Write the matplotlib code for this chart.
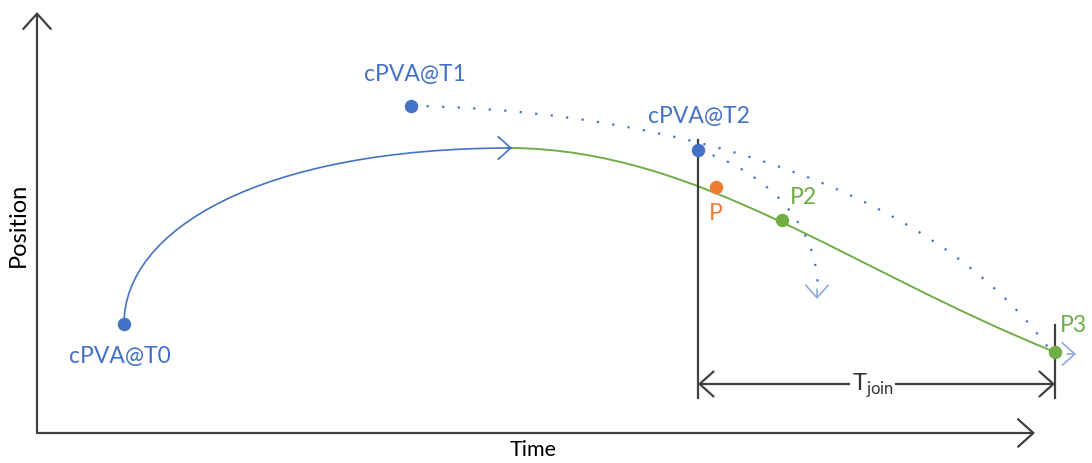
import matplotlib.pyplot as plt
from matplotlib.path import Path
from matplotlib.patches import PathPatch, FancyArrowPatch

plt.rcParams['font.family'] = ['Lato', 'DejaVu Sans']

BLUE = '#4472C4'
ORANGE = '#ED7D31'
GREEN = '#70AD47'
GREY = '#404040'

# key states (time, position) in diagram units
pva_names = ['cPVA@T0', 'cPVA@T1', 'cPVA@T2']
pva_time = [87, 374, 661]
pva_pos = [109, 327, 283]
pva_label_xy = [(83, 77), (378, 358), (662, 317)]

p_time, p_pos = 679, 246
p2_time, p2_pos = 745, 213
p3_time, p3_pos = 1018, 81

# bezier control points for the trajectories
blue_ctrl = [(87, 109), (87, 203), (223, 285), (475, 285)]
green_ctrl = [(475, 285), (663, 283), (813, 163), (1018, 81)]
t1_ctrl = [(374, 327), (563, 325), (873, 275), (1013, 83)]
t2_ctrl = [(661, 283), (728, 262), (782, 210), (781, 140)]

t_join_start, t_join_end = 661, 1018
t_join_level = 49

fig = plt.figure(figsize=(10.92, 4.63), dpi=100)
ax = fig.add_axes([0, 0, 1, 1])
ax.set_xlim(-37, 1055)
ax.set_ylim(-30, 433)
ax.axis('off')

def bezier(ctrl):
    return Path(ctrl, [Path.MOVETO, Path.CURVE4, Path.CURVE4, Path.CURVE4])

def head(tip, frm, color, lw=1.2, scale=18):
    ax.add_patch(FancyArrowPatch(frm, tip, arrowstyle='->,head_length=0.5,head_width=0.45',
                                 mutation_scale=scale, color=color, lw=lw,
                                 shrinkA=0, shrinkB=0))

# axes
head((0, 421), (0, 0), GREY, lw=1.6, scale=22)
head((998, 0), (0, 0), GREY, lw=1.6, scale=22)
ax.text(-19, 208, 'Position', rotation=90, ha='center', va='center', fontsize=17)
ax.text(496, -17, 'Time', ha='center', va='center', fontsize=15.5)

# trajectories
ax.add_patch(PathPatch(bezier(blue_ctrl), fill=False, ec=BLUE, lw=1.2))
head(blue_ctrl[-1], (blue_ctrl[-1][0] - 5, blue_ctrl[-1][1]), BLUE)
ax.add_patch(PathPatch(bezier(green_ctrl), fill=False, ec=GREEN, lw=1.4))
ax.add_patch(PathPatch(bezier(t1_ctrl), fill=False, ec=BLUE, lw=1.6, ls=(0, (1, 6))))
head((1039, 79), (1030, 79), '#8FAADC')
ax.add_patch(PathPatch(bezier(t2_ctrl), fill=False, ec=BLUE, lw=1.6, ls=(0, (1, 6))))
head((780, 134), (780, 144), '#8FAADC')

# T_join markers
ax.plot([t_join_start, t_join_start], [35, 293], color=GREY, lw=1.6)
ax.plot([t_join_end, t_join_end], [35, 108], color=GREY, lw=1.6)
ax.add_patch(FancyArrowPatch((t_join_start, t_join_level), (t_join_end, t_join_level),
                             arrowstyle='<->,head_length=0.5,head_width=0.45',
                             mutation_scale=20, color=GREY, lw=1.6, shrinkA=0, shrinkB=0))
ax.text((t_join_start + t_join_end) / 2 - 4, t_join_level - 2, r'T$_{\mathregular{join}}$',
        ha='center', va='center', fontsize=17, color='#333333',
        bbox=dict(fc='white', ec='none', pad=1))

# points and labels
ax.scatter(pva_time, pva_pos, s=75, color=BLUE, zorder=5)
for name, (lx, ly) in zip(pva_names, pva_label_xy):
    ax.text(lx, ly, name, ha='center', va='center', fontsize=16.5, color=BLUE)

ax.scatter([p_time], [p_pos], s=75, color=ORANGE, zorder=5)
ax.text(p_time, 220, 'P', ha='center', va='center', fontsize=16.5, color=ORANGE)
ax.scatter([p2_time, p3_time], [p2_pos, p3_pos], s=75, color=GREEN, zorder=5)
ax.text(766, 235, 'P2', ha='center', va='center', fontsize=16.5, color=GREEN)
ax.text(1036, 107, 'P3', ha='center', va='center', fontsize=16.5, color=GREEN)

fig.savefig('out.png', dpi=100)
